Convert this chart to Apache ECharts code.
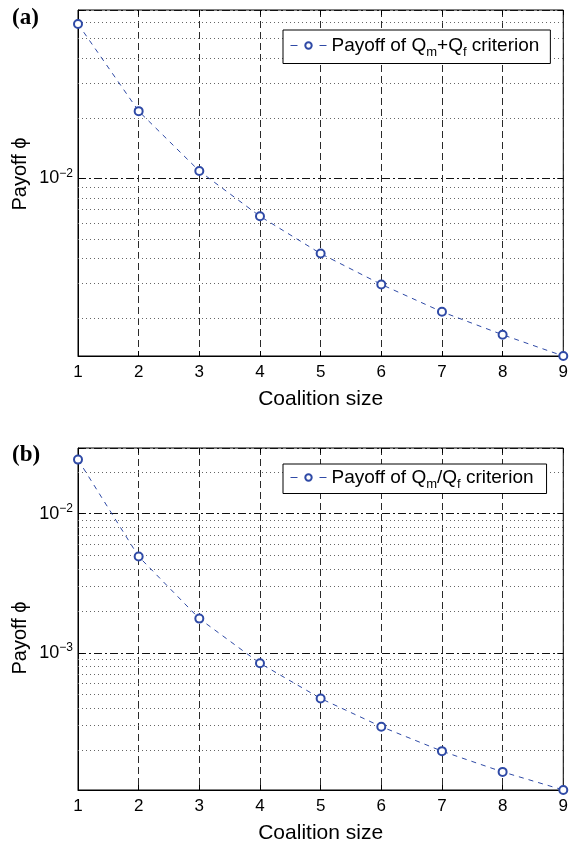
<!DOCTYPE html>
<html>
<head>
<meta charset="utf-8">
<script src="https://cdn.jsdelivr.net/npm/echarts@6/dist/echarts.min.js"></script>
<style>
  html, body { margin: 0; padding: 0; background: #fff; }
  #chart { width: 571px; height: 845px; }
</style>
</head>
<body>
<div id="chart"></div>
<script>
// Coalition sizes on the x axis
const coalitionSize = [1, 2, 3, 4, 5, 6, 7, 8, 9];

// (a) payoff under the Qm+Qf criterion
const payoffSum = [5.91e-2, 2.17e-2, 1.09e-2, 6.48e-3, 4.22e-3, 2.96e-3, 2.16e-3, 1.66e-3, 1.30e-3];
// (b) payoff under the Qm/Qf criterion
const payoffRatio = [2.45e-2, 4.92e-3, 1.76e-3, 8.4e-4, 4.69e-4, 2.94e-4, 1.96e-4, 1.39e-4, 1.03e-4];

// log-axis extents of both panels
const yRangeA = [1.30e-3, 6.94e-2];
const yRangeB = [1.03e-4, 2.97e-2];

// minor (dotted) log grid values inside each panel
const minorGridA = [2e-3, 3e-3, 4e-3, 5e-3, 6e-3, 7e-3, 8e-3, 9e-3, 2e-2, 3e-2, 4e-2, 5e-2, 6e-2];
const minorGridB = [2e-4, 3e-4, 4e-4, 5e-4, 6e-4, 7e-4, 8e-4, 9e-4,
                    2e-3, 3e-3, 4e-3, 5e-3, 6e-3, 7e-3, 8e-3, 9e-3, 2e-2];

const nameA = 'Payoff of Qm+Qf criterion';
const nameB = 'Payoff of Qm/Qf criterion';
const legendText = {};
legendText[nameA] = '{t|Payoff of Q}{s|m}{t|+Q}{s|f}{t| criterion}';
legendText[nameB] = '{t|Payoff of Q}{s|m}{t|/Q}{s|f}{t| criterion}';

const FONT = 'Liberation Sans, Arial, Helvetica, sans-serif';
const SERIF = 'Liberation Serif, Times New Roman, serif';
const LINE_BLUE = '#2f4aa6';

const grids = [
  { left: 78, top: 10, width: 486, height: 346 },
  { left: 78, top: 448, width: 486, height: 346 }
];

function isPow10(v) {
  const l = Math.log10(v);
  return Math.abs(l - Math.round(l)) < 1e-6;
}

function xAxisBottom(gi) {
  return {
    type: 'value', gridIndex: gi, min: 1, max: 9, interval: 1,
    name: 'Coalition size', nameLocation: 'middle', nameGap: 33,
    nameTextStyle: { fontFamily: FONT, fontSize: 21, color: '#000' },
    axisLine: { show: true, lineStyle: { color: '#000', width: 1 } },
    axisTick: { show: true, inside: true, length: 5, lineStyle: { color: '#000' } },
    axisLabel: { fontFamily: FONT, fontSize: 17, color: '#000', margin: 8 },
    splitLine: { show: true, lineStyle: { color: '#2a2a2a', width: 1, type: [7, 4] } }
  };
}
function xAxisTop(gi) {
  return {
    type: 'value', gridIndex: gi, min: 1, max: 9, interval: 1, position: 'top',
    axisLine: { show: false },
    axisTick: { show: true, inside: true, length: 5, lineStyle: { color: '#000' } },
    axisLabel: { show: false },
    splitLine: { show: false }
  };
}
function yAxisLeft(gi, range) {
  return {
    type: 'log', logBase: 10, gridIndex: gi, min: range[0], max: range[1],
    axisLine: { show: true, lineStyle: { color: '#000' } },
    axisTick: { show: true, inside: true, length: 6, lineStyle: { color: '#000' } },
    axisLabel: {
      margin: 5,
      formatter: function (v) {
        if (!isPow10(v)) return '';
        const e = Math.round(Math.log10(v));
        return '{b|10}{s|' + (e < 0 ? '\u2212' + (-e) : e) + '}';
      },
      rich: {
        b: { fontFamily: FONT, fontSize: 18, color: '#000', lineHeight: 22 },
        s: { fontFamily: FONT, fontSize: 12, color: '#000', lineHeight: 10, verticalAlign: 'top' }
      }
    },
    splitLine: { show: true, lineStyle: { color: '#111', width: 1, type: [8, 3, 2, 3] } }
  };
}
function yAxisRight(gi, range) {
  return {
    type: 'log', logBase: 10, gridIndex: gi, min: range[0], max: range[1], position: 'right',
    axisLine: { show: false },
    axisTick: { show: true, inside: true, length: 6, lineStyle: { color: '#000' } },
    axisLabel: { show: false },
    splitLine: { show: false }
  };
}

function payoffSeries(name, values, xi, yi, minor) {
  return {
    type: 'line', name: name, xAxisIndex: xi, yAxisIndex: yi,
    data: coalitionSize.map((x, i) => [x, values[i]]),
    symbol: 'emptyCircle', symbolSize: 8,
    itemStyle: { color: LINE_BLUE, borderColor: LINE_BLUE, borderWidth: 1 },
    lineStyle: { color: LINE_BLUE, width: 1, type: [5, 5] },
    clip: false, z: 5,
    markLine: {
      silent: true, symbol: ['none', 'none'], animation: false,
      precision: 12, z: 2,
      label: { show: false },
      emphasis: { disabled: true },
      lineStyle: { color: '#666', width: 1, type: [1, 3] },
      data: minor.map(v => ({ yAxis: v }))
    }
  };
}

function legendAt(top, name, padding) {
  return {
    left: 283, top: top, orient: 'vertical',
    data: [name],
    itemWidth: 36, itemHeight: 8,
    padding: padding,
    backgroundColor: '#fff', borderColor: '#000', borderWidth: 1, borderRadius: 0,
    selectedMode: false,
    lineStyle: { type: [7, 22], width: 1 },
    formatter: n => legendText[n],
    textStyle: {
      rich: {
        t: { fontFamily: FONT, fontSize: 19, color: '#000', lineHeight: 26 },
        s: { fontFamily: FONT, fontSize: 13, color: '#000', lineHeight: 8, verticalAlign: 'bottom' }
      }
    }
  };
}

const chart = echarts.init(document.getElementById('chart'), null, { renderer: 'canvas' });
chart.setOption({
  animation: false,
  backgroundColor: '#fff',
  title: [
    { text: '(a)', left: 12, top: 7, padding: 0,
      textStyle: { fontFamily: SERIF, fontWeight: 'bold', fontSize: 23, color: '#000' } },
    { text: '(b)', left: 12, top: 444, padding: 0,
      textStyle: { fontFamily: SERIF, fontWeight: 'bold', fontSize: 23, color: '#000' } }
  ],
  grid: grids.map(g => Object.assign({ show: true, borderColor: '#000', borderWidth: 1, backgroundColor: '#fff', containLabel: false }, g)),
  xAxis: [xAxisBottom(0), xAxisBottom(1), xAxisTop(0), xAxisTop(1)],
  yAxis: [yAxisLeft(0, yRangeA), yAxisLeft(1, yRangeB), yAxisRight(0, yRangeA), yAxisRight(1, yRangeB)],
  legend: [legendAt(30, nameA, [6, 11, 5, 7]), legendAt(464, nameB, [4, 13, 3, 7])],
  graphic: [
    { type: 'text', x: 20, y: 174, rotation: Math.PI / 2,
      style: { text: 'Payoff \u03d5', fontFamily: FONT, fontSize: 20, fill: '#000', align: 'center', verticalAlign: 'middle' } },
    { type: 'text', x: 20, y: 638, rotation: Math.PI / 2,
      style: { text: 'Payoff \u03d5', fontFamily: FONT, fontSize: 20, fill: '#000', align: 'center', verticalAlign: 'middle' } }
  ],
  series: [
    payoffSeries(nameA, payoffSum, 0, 0, minorGridA),
    payoffSeries(nameB, payoffRatio, 1, 1, minorGridB)
  ]
});
</script>
</body>
</html>
